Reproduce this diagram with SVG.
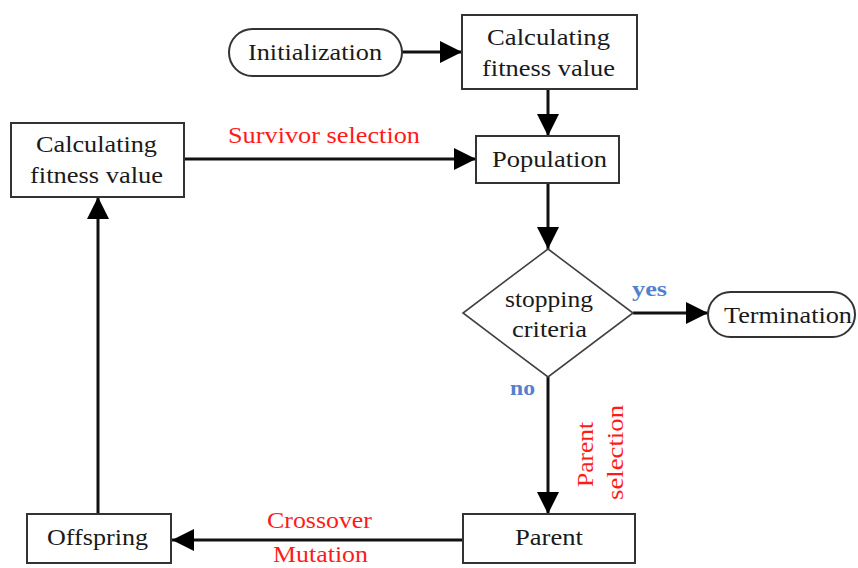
<svg xmlns="http://www.w3.org/2000/svg" width="858" height="568" viewBox="0 0 858 568">
  <style>
    .box { fill: #ffffff; stroke: #333333; stroke-width: 2; }
    .dia { fill: #ffffff; stroke: #404040; stroke-width: 1.6; }
    .txt { font-family: "Liberation Serif", "Times New Roman", serif; font-size: 23px; fill: #1a1a1a; }
    .red { font-family: "Liberation Serif", "Times New Roman", serif; font-size: 23px; fill: #ff1a1a; }
    .blue { font-family: "Liberation Serif", "Times New Roman", serif; font-size: 21px; font-weight: bold; fill: #5580d0; }
    .edge { fill: none; stroke: #111111; stroke-width: 3; }
  </style>
  <defs>
    <marker id="arrow" markerUnits="userSpaceOnUse" markerWidth="22" markerHeight="22" refX="22" refY="11" orient="auto">
      <path d="M0,0 L22,11 L0,22 z" fill="#000000"/>
    </marker>
  </defs>
  <rect width="858" height="568" fill="#ffffff"/>

  <!-- connectors and their labels -->
  <g id="connectors">
    <line class="edge" x1="402" y1="52" x2="462" y2="52" marker-end="url(#arrow)"/>
    <line class="edge" x1="548" y1="89" x2="548" y2="136" marker-end="url(#arrow)"/>
    <line class="edge" x1="184" y1="159" x2="476" y2="159" marker-end="url(#arrow)"/>
    <line class="edge" x1="548" y1="183" x2="548" y2="249" marker-end="url(#arrow)"/>
    <line class="edge" x1="633" y1="313" x2="708" y2="313" marker-end="url(#arrow)"/>
    <line class="edge" x1="548" y1="377" x2="548" y2="514" marker-end="url(#arrow)"/>
    <line class="edge" x1="463" y1="540" x2="172" y2="540" marker-end="url(#arrow)"/>
    <line class="edge" x1="98" y1="514" x2="98" y2="197" marker-end="url(#arrow)"/>
    <text class="red" x="228" y="143" textLength="192" lengthAdjust="spacingAndGlyphs">Survivor selection</text>
    <text class="blue" x="632" y="296" textLength="35" lengthAdjust="spacingAndGlyphs">yes</text>
    <text class="blue" x="510" y="395" textLength="25" lengthAdjust="spacingAndGlyphs">no</text>
    <text class="red" transform="translate(593 487) rotate(-90)" textLength="65" lengthAdjust="spacingAndGlyphs">Parent</text>
    <text class="red" transform="translate(623 500) rotate(-90)" textLength="95" lengthAdjust="spacingAndGlyphs">selection</text>
    <text class="red" x="267" y="528" textLength="105" lengthAdjust="spacingAndGlyphs">Crossover</text>
    <text class="red" x="273" y="562" textLength="95" lengthAdjust="spacingAndGlyphs">Mutation</text>
  </g>

  <g id="initialization">
    <rect class="box" x="229" y="29" width="173" height="47" rx="23.5" ry="23.5"/>
    <text class="txt" x="248" y="60" textLength="134" lengthAdjust="spacingAndGlyphs">Initialization</text>
  </g>

  <g id="fitness-top">
    <rect class="box" x="462" y="15" width="175" height="74"/>
    <text class="txt" x="487" y="45" textLength="123" lengthAdjust="spacingAndGlyphs">Calculating</text>
    <text class="txt" x="482" y="76" textLength="133" lengthAdjust="spacingAndGlyphs">fitness value</text>
  </g>

  <g id="fitness-left">
    <rect class="box" x="11" y="123" width="173" height="74"/>
    <text class="txt" x="36" y="152" textLength="121" lengthAdjust="spacingAndGlyphs">Calculating</text>
    <text class="txt" x="30" y="183" textLength="133" lengthAdjust="spacingAndGlyphs">fitness value</text>
  </g>

  <g id="population">
    <rect class="box" x="476" y="136" width="143" height="47"/>
    <text class="txt" x="492" y="167" textLength="115" lengthAdjust="spacingAndGlyphs">Population</text>
  </g>

  <g id="stopping-criteria">
    <polygon class="dia" points="548,249 633,313 548,377 463,313"/>
    <text class="txt" x="505" y="307" textLength="88" lengthAdjust="spacingAndGlyphs">stopping</text>
    <text class="txt" x="512" y="337" textLength="75" lengthAdjust="spacingAndGlyphs">criteria</text>
  </g>

  <g id="termination">
    <rect class="box" x="708" y="292" width="147" height="45" rx="22.5" ry="22.5"/>
    <text class="txt" x="724" y="323" textLength="128" lengthAdjust="spacingAndGlyphs">Termination</text>
  </g>

  <g id="parent">
    <rect class="box" x="463" y="514" width="172" height="49"/>
    <text class="txt" x="515" y="545" textLength="68" lengthAdjust="spacingAndGlyphs">Parent</text>
  </g>

  <g id="offspring">
    <rect class="box" x="27" y="514" width="144" height="49"/>
    <text class="txt" x="47" y="545" textLength="101" lengthAdjust="spacingAndGlyphs">Offspring</text>
  </g>
</svg>
